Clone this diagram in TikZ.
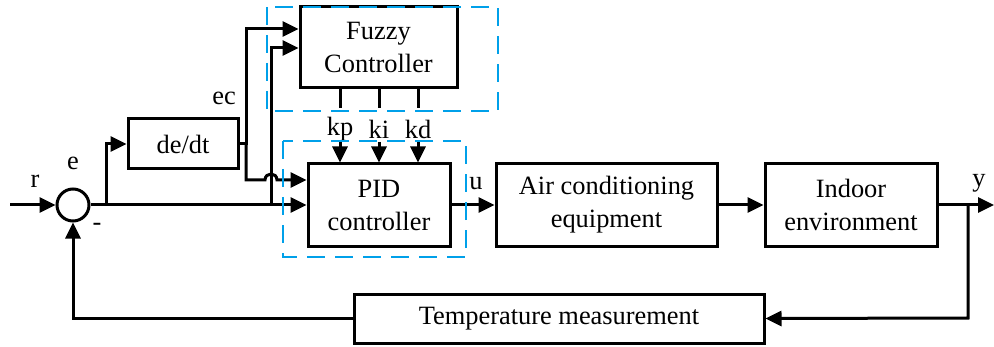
\documentclass[tikz,border=0pt]{standalone}
\usepackage{fontspec}
\setmainfont{Liberation Serif}
\usetikzlibrary{arrows.meta}
\definecolor{cyanblue}{RGB}{0,160,233}
\begin{document}
\begin{tikzpicture}[x=0.5pt,y=-0.5pt,
 blk/.style={draw, line width=1.5pt, inner sep=0pt, align=center, font=\fontsize{13.2}{16.5}\selectfont},
 lbl/.style={inner sep=0pt, font=\fontsize{13.2}{15}\selectfont},
 arr/.style={-{Triangle[length=8pt,width=7.5pt]}},
 ln/.style={line width=1.5pt},
 dbox/.style={draw=cyanblue, line width=0.8pt, dash pattern=on 9pt off 5pt}]
\useasboundingbox (0,0) rectangle (994,347);

% blocks
\node[blk, minimum width=78.5pt, minimum height=40.5pt] (fz) at (378.5,47.5) {Fuzzy\\Controller};
\node[blk, minimum width=55pt, minimum height=25pt] (dd) at (183,144) {de/dt};
\node[blk, minimum width=71pt, minimum height=41pt] (pid) at (379,205) {PID\\controller};
\node[blk, minimum width=110.5pt, minimum height=41pt] (air) at (606.5,205) {Air conditioning\\equipment};
\node[blk, minimum width=86pt, minimum height=41pt] (ind) at (851,205) {Indoor\\environment};
\node[blk, minimum width=205pt, minimum height=24.5pt] (tm) at (559,318.5) {Temperature measurement};
\node[draw, circle, line width=1.5pt, minimum size=16pt, inner sep=0pt] (sum) at (73,205) {};

% labels
\node[lbl] (lr) at (35,181) {r};
\node[lbl] (le) at (73,163) {e};
\node[lbl] (lm) at (97,227) {-};
\node[lbl] (lec) at (224,98) {ec};
\node[lbl] (lkp) at (340,129) {kp};
\node[lbl] (lki) at (379,129) {ki};
\node[lbl] (lkd) at (418,129) {kd};
\node[lbl] (lu) at (476,184) {u};
\node[lbl] (ly) at (979,183) {y};

% helper coordinates
\coordinate (rin) at (10,205);
\coordinate (b1) at (106,205);
\coordinate (b2) at (271,205);
\coordinate (c29) at (0,29);
\coordinate (c48) at (0,48);
\coordinate (c180) at (0,180);
\coordinate (v1) at (246,144);
\coordinate (v1t) at (246,29);
\coordinate (v1b) at (246,180);
\coordinate (v2t) at (271,48);
\coordinate (h1) at (265,180);
\coordinate (h2) at (277,180);
\coordinate (o1) at (340,108);
\coordinate (o2) at (379,108);
\coordinate (o3) at (418,108);
\coordinate (a1) at (340,142);
\coordinate (a2) at (379,142);
\coordinate (a3) at (418,142);
\coordinate (yout) at (994,205);
\coordinate (b3) at (968,205);
\coordinate (b3d) at (968,318);

% connectors
\draw[ln,arr] (rin) -- (sum.west);
\draw[ln,arr] (sum.east) -- (pid.west);
\draw[ln,arr] (b1) |- (dd.west);
\draw[ln,arr] (b2) -- (v2t) -- (fz.west |- c48);
\draw[ln,arr] (dd.east) -- (v1) -- (v1t) -- (fz.west |- c29);
\draw[ln,arr] (v1) -- (v1b) -- (h1) .. controls (265,172) and (277,172) .. (h2) -- (pid.west |- c180);
\draw[ln] (fz.south -| o1) -- (o1);
\draw[ln] (fz.south -| o2) -- (o2);
\draw[ln] (fz.south -| o3) -- (o3);
\draw[ln,arr] (a1) -- (pid.north -| a1);
\draw[ln,arr] (a2) -- (pid.north -| a2);
\draw[ln,arr] (a3) -- (pid.north -| a3);
\draw[ln,arr] (pid.east) -- (air.west);
\draw[ln,arr] (air.east) -- (ind.west);
\draw[ln,arr] (ind.east) -- (yout);
\draw[ln,arr] (b3) -- (b3d) -- (tm.east);
\draw[ln,arr] (tm.west) -| (sum.south);

% dashed groups
\draw[dbox] (267,7) rectangle (498,111);
\draw[dbox] (283,141) rectangle (466,257);
\end{tikzpicture}
\end{document}
